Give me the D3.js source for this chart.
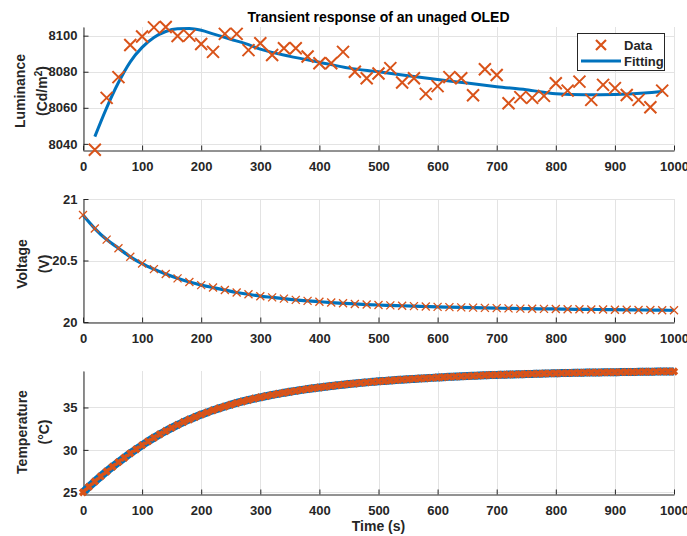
<!DOCTYPE html>
<html>
<head>
<meta charset="utf-8">
<title>Transient response of an unaged OLED</title>
<script src="https://d3js.org/d3.v7.min.js"></script>
<style>
html, body { margin: 0; padding: 0; background: #fff; }
svg { display: block; font-family: "Liberation Sans", Arial, sans-serif; }
</style>
</head>
<body>
<div id="chart"></div>
<script>
// ---- data ----
var timeTicks = [0, 100, 200, 300, 400, 500, 600, 700, 800, 900, 1000];

var lumTime = [20, 40, 60, 80, 100, 120, 140, 160, 180, 200, 220, 240, 260, 280, 300, 320, 340, 360, 380, 400,
	420, 440, 460, 480, 500, 520, 540, 560, 580, 600, 620, 640, 660, 680, 700, 720, 740, 760, 780, 800,
	820, 840, 860, 880, 900, 920, 940, 960, 980];
var lumData = [8036.7, 8065.5, 8077, 8094.8, 8099.5, 8104.6, 8104.8, 8099.8, 8100, 8095.4, 8091, 8101, 8101, 8092, 8095.8, 8089.3, 8093, 8093, 8088.4, 8084.7,
	8084.7, 8091, 8080, 8076.4, 8079, 8082, 8074, 8076.4, 8067.7, 8072, 8077, 8076.4, 8067, 8081.4, 8078.2, 8062.5, 8065.9, 8065.5, 8066.6, 8073.6,
	8069.5, 8074.5, 8064.4, 8072.7, 8070.9, 8067.1, 8064.4, 8060.3, 8069.5];
var lumFitTime = [20, 40, 60, 80, 100, 120, 140, 160, 180, 200, 220, 250, 275, 300, 350, 400, 450, 500, 550, 600, 650, 700, 750, 800, 850, 900, 950, 980];
var lumFit = [8044, 8060, 8074, 8085.5, 8093.5, 8099, 8102.3, 8103.8, 8104, 8103, 8101, 8098, 8095.6, 8092.5, 8088.5, 8085.3, 8082, 8080, 8077.8, 8075.7, 8073.7, 8071.7, 8070, 8067.8, 8067.2, 8067.4, 8068.2, 8069];
var lumTicks = [8040, 8060, 8080, 8100];

var voltTime = [0, 20, 40, 60, 80, 100, 120, 140, 160, 180, 200, 220, 240, 260, 280, 300, 320, 340, 360, 380, 400,
	420, 440, 460, 480, 500, 520, 540, 560, 580, 600, 620, 640, 660, 680, 700, 720, 740, 760, 780, 800,
	820, 840, 860, 880, 900, 920, 940, 960, 980, 1000];
var voltData = [20.87, 20.76, 20.67, 20.60, 20.53, 20.475, 20.43, 20.39, 20.355, 20.325, 20.30, 20.28, 20.26, 20.24, 20.225, 20.21, 20.20, 20.19, 20.18, 20.172, 20.165,
	20.158, 20.152, 20.147, 20.142, 20.138, 20.135, 20.132, 20.129, 20.126, 20.123, 20.121, 20.119, 20.117, 20.115, 20.113, 20.111, 20.109, 20.108, 20.107, 20.106,
	20.104, 20.103, 20.102, 20.101, 20.100, 20.099, 20.098, 20.097, 20.096, 20.095];
var voltTicks = [20, 20.5, 21];

var tempTime = [0, 10, 20, 30, 40, 50, 60, 70, 80, 90, 100, 110, 120, 130, 140, 150, 160, 170, 180, 190, 200,
	210, 220, 230, 240, 250, 260, 270, 280, 290, 300, 310, 320, 330, 340, 350, 360, 370, 380, 390, 400,
	410, 420, 430, 440, 450, 460, 470, 480, 490, 500, 510, 520, 530, 540, 550, 560, 570, 580, 590, 600,
	610, 620, 630, 640, 650, 660, 670, 680, 690, 700, 710, 720, 730, 740, 750, 760, 770, 780, 790, 800,
	810, 820, 830, 840, 850, 860, 870, 880, 890, 900, 910, 920, 930, 940, 950, 960, 970, 980, 990, 1000];
var tempData = [25.00, 25.65, 26.28, 26.88, 27.46, 28.02, 28.56, 29.08, 29.59, 30.08, 30.55, 31.00, 31.43, 31.84, 32.23, 32.60, 32.95, 33.28, 33.59, 33.88, 34.16,
	34.42, 34.67, 34.90, 35.12, 35.33, 35.53, 35.71, 35.89, 36.05, 36.20, 36.34, 36.48, 36.61, 36.73, 36.85, 36.96, 37.07, 37.17, 37.27, 37.36,
	37.45, 37.53, 37.61, 37.69, 37.76, 37.83, 37.90, 37.96, 38.02, 38.08, 38.13, 38.18, 38.23, 38.28, 38.33, 38.37, 38.41, 38.45, 38.49, 38.53,
	38.57, 38.61, 38.64, 38.67, 38.70, 38.73, 38.76, 38.79, 38.82, 38.84, 38.86, 38.88, 38.90, 38.92, 38.94, 38.96, 38.98, 39.00, 39.02, 39.04,
	39.05, 39.07, 39.08, 39.10, 39.11, 39.12, 39.13, 39.14, 39.15, 39.16, 39.17, 39.18, 39.19, 39.20, 39.21, 39.22, 39.23, 39.24, 39.24, 39.25];
var tempTicks = [25, 30, 35];

// ---- layout ----
var W = 687, H = 536;
var left = 83, right = 674, ph = 123;
var orange = "#D95319", blue = "#0072BD", ink = "#262626";

var svg = d3.select("#chart").append("svg")
	.attr("width", W).attr("height", H);

var x = d3.scaleLinear().domain([0, 1000]).range([left, right]);

function xMark(h) {
	return "M" + (-h) + "," + (-h) + "L" + h + "," + h + "M" + (-h) + "," + h + "L" + h + "," + (-h);
}

function panel(top, yDomain, yTicks) {
	var y = d3.scaleLinear().domain(yDomain).range([top + ph, top]);
	var g = svg.append("g");

	// grid
	g.append("g").selectAll("line").data(timeTicks).join("line")
		.attr("x1", d => Math.round(x(d)) + 0.5).attr("x2", d => Math.round(x(d)) + 0.5)
		.attr("y1", top).attr("y2", top + ph)
		.attr("stroke", "#e3e3e3");
	g.append("g").selectAll("line").data(yTicks).join("line")
		.attr("x1", left).attr("x2", right)
		.attr("y1", d => Math.round(y(d)) + 0.5).attr("y2", d => Math.round(y(d)) + 0.5)
		.attr("stroke", "#e3e3e3");

	var fmt = d3.format("");
	var xa = g.append("g")
		.attr("transform", "translate(0," + (top + ph + 0.5) + ")")
		.call(d3.axisBottom(x).tickValues(timeTicks).tickFormat(fmt).tickSize(-5).tickSizeOuter(0).tickPadding(11));
	var ya = g.append("g")
		.attr("transform", "translate(" + (left + 0.5) + ",0)")
		.call(d3.axisLeft(y).tickValues(yTicks).tickFormat(fmt).tickSize(-5).tickSizeOuter(0).tickPadding(6));
	[xa, ya].forEach(a => {
		a.selectAll("path, line").attr("stroke", ink);
		a.selectAll("text").attr("fill", ink)
			.style("font-size", "13px").style("font-weight", "bold")
			.style("font-family", "'Liberation Sans', Arial, sans-serif");
	});
	return { g: g, y: y };
}

function yLabel(cx, cy, first, second, sup) {
	var t = svg.append("text")
		.attr("transform", "translate(" + cx + "," + cy + ") rotate(-90)")
		.attr("text-anchor", "middle")
		.attr("fill", ink)
		.style("font-size", "14px").style("font-weight", "bold");
	t.append("tspan").attr("x", 0).attr("y", 0).text(first);
	var s = t.append("tspan").attr("x", 0).attr("y", 22).text(second);
	if (sup) {
		t.append("tspan").attr("baseline-shift", "super").style("font-size", "10px").text(sup);
		t.append("tspan").text(")");
	}
}

// ---- panel 1: luminance ----
var p1 = panel(27, [8036.6, 8104.8], lumTicks);
p1.g.append("path")
	.datum(lumFitTime.map((t, i) => [t, lumFit[i]]))
	.attr("fill", "none").attr("stroke", blue).attr("stroke-width", 3)
	.attr("d", d3.line().x(d => x(d[0])).y(d => p1.y(d[1])).curve(d3.curveMonotoneX));
p1.g.append("g").selectAll("path").data(lumTime).join("path")
	.attr("transform", (t, i) => "translate(" + x(t) + "," + p1.y(lumData[i]) + ")")
	.attr("d", xMark(6)).attr("stroke", orange).attr("stroke-width", 2).attr("fill", "none");

// legend
var lg = svg.append("g");
lg.append("rect").attr("x", 577.5).attr("y", 33.5).attr("width", 87).attr("height", 37)
	.attr("fill", "#fff").attr("stroke", ink).attr("stroke-width", 1);
lg.append("path").attr("transform", "translate(601,45)").attr("d", xMark(5))
	.attr("stroke", orange).attr("stroke-width", 2.2).attr("fill", "none");
lg.append("line").attr("x1", 581).attr("x2", 621).attr("y1", 61).attr("y2", 61)
	.attr("stroke", blue).attr("stroke-width", 3);
lg.selectAll("text").data(["Data", "Fitting"]).join("text")
	.attr("x", 624).attr("y", (d, i) => 50 + i * 16)
	.attr("fill", ink).style("font-size", "13px").style("font-weight", "bold")
	.text(d => d);

// ---- panel 2: voltage ----
var p2 = panel(199, [20, 21], voltTicks);
p2.g.append("path")
	.datum(voltTime.map((t, i) => [t, voltData[i]]))
	.attr("fill", "none").attr("stroke", blue).attr("stroke-width", 3.2)
	.attr("d", d3.line().x(d => x(d[0])).y(d => p2.y(d[1])).curve(d3.curveMonotoneX));
p2.g.append("g").selectAll("path").data(voltTime).join("path")
	.attr("transform", (t, i) => "translate(" + x(t) + "," + p2.y(voltData[i]) + ")")
	.attr("d", xMark(4)).attr("stroke", orange).attr("stroke-width", 1.3).attr("fill", "none");

// ---- panel 3: temperature (dense samples, markers merge into a band) ----
var p3 = panel(371, [24.8, 39.3], tempTicks);
p3.g.append("path")
	.datum(tempTime.map((t, i) => [t, tempData[i]]))
	.attr("fill", "none").attr("stroke", blue).attr("stroke-width", 8)
	.attr("d", d3.line().x(d => x(d[0])).y(d => p3.y(d[1])).curve(d3.curveMonotoneX));
p3.g.append("g").selectAll("path").data(tempTime).join("path")
	.attr("transform", (t, i) => "translate(" + x(t) + "," + p3.y(tempData[i]) + ")")
	.attr("d", xMark(3)).attr("stroke", orange).attr("stroke-width", 3.4).attr("fill", "none");

// ---- labels ----
svg.append("text").attr("x", (left + right) / 2).attr("y", 21.5)
	.attr("text-anchor", "middle").attr("fill", "#000")
	.style("font-size", "14px").style("font-weight", "bold")
	.text("Transient response of an unaged OLED");
svg.append("text").attr("x", (left + right) / 2).attr("y", 531)
	.attr("text-anchor", "middle").attr("fill", ink)
	.style("font-size", "14px").style("font-weight", "bold")
	.text("Time (s)");

yLabel(25, 91, "Luminance", "(Cd/m", "2");
yLabel(27, 264, "Voltage", "(V)");
yLabel(27, 432, "Temperature", "(\u00B0C)");
</script>
</body>
</html>
